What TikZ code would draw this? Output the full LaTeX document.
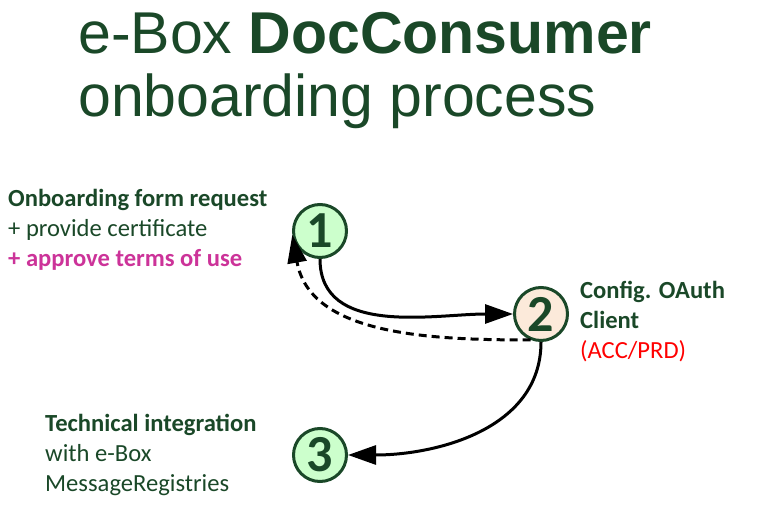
\documentclass[tikz,border=0pt]{standalone}
\usepackage{fontspec}
\setmainfont{Carlito}
\newfontfamily\titlefont{Liberation Sans}
\usetikzlibrary{arrows.meta, positioning}

\definecolor{darkgreen}{RGB}{26,72,40}
\definecolor{mintfill}{RGB}{204,255,204}
\definecolor{peachfill}{RGB}{252,234,218}
\definecolor{termspink}{RGB}{204,51,153}

\begin{document}
\begin{tikzpicture}[
        x=1pt, y=1pt,
        every node/.style={align=left},
        stepcircle/.style={
            circle, minimum size=53pt, inner sep=0pt,
            draw=darkgreen, line width=3pt, text=darkgreen,
            font=\fontsize{52}{52}\selectfont\bfseries
        },
        stepnote/.style={
            anchor=west, inner sep=0pt, text=darkgreen,
            font=\fontsize{24.6}{30}\selectfont
        },
        arr/.style={-{Triangle[length=28pt,width=19pt]}, line width=3pt},
    ]

    \useasboundingbox (0,0) rectangle (778,-510);

    \node (title) [anchor=north west, inner sep=0pt, text=darkgreen,
                   font=\titlefont\fontsize{59}{63}\selectfont] at (78,-12)
                  {e-Box \textbf{DocConsumer}\\onboarding process};

    \node (one)   [stepcircle, fill=mintfill]  at (320,-231) {1};
    \node (two)   [stepcircle, fill=peachfill] at (541,-314) {2};
    \node (three) [stepcircle, fill=mintfill]  at (320,-455) {3};

    \node (form)  [stepnote] at (8,-230)
                  {\textbf{Onboarding form request}\\+ provide certificate\\
                   \textcolor{termspink}{\textbf{+ approve terms of use}}};
    \node (oauth) [stepnote] at (580,-322)
                  {\textbf{Config. OAuth}\\\textbf{Client}\\\textcolor{red}{(ACC/PRD)}};
    \node (integ) [stepnote] at (45,-455)
                  {\textbf{Technical integration}\\with e-Box\\MessageRegistries};

    \draw [arr] (one.south) to[out=-90, in=180] (two.west);
    \draw [arr, dash pattern=on 8pt off 5pt] (two.-112) to[out=180, in=-80] (one.188);
    \draw [arr] (two.south) to[out=-90, in=0] (three.east);

\end{tikzpicture}
\end{document}
